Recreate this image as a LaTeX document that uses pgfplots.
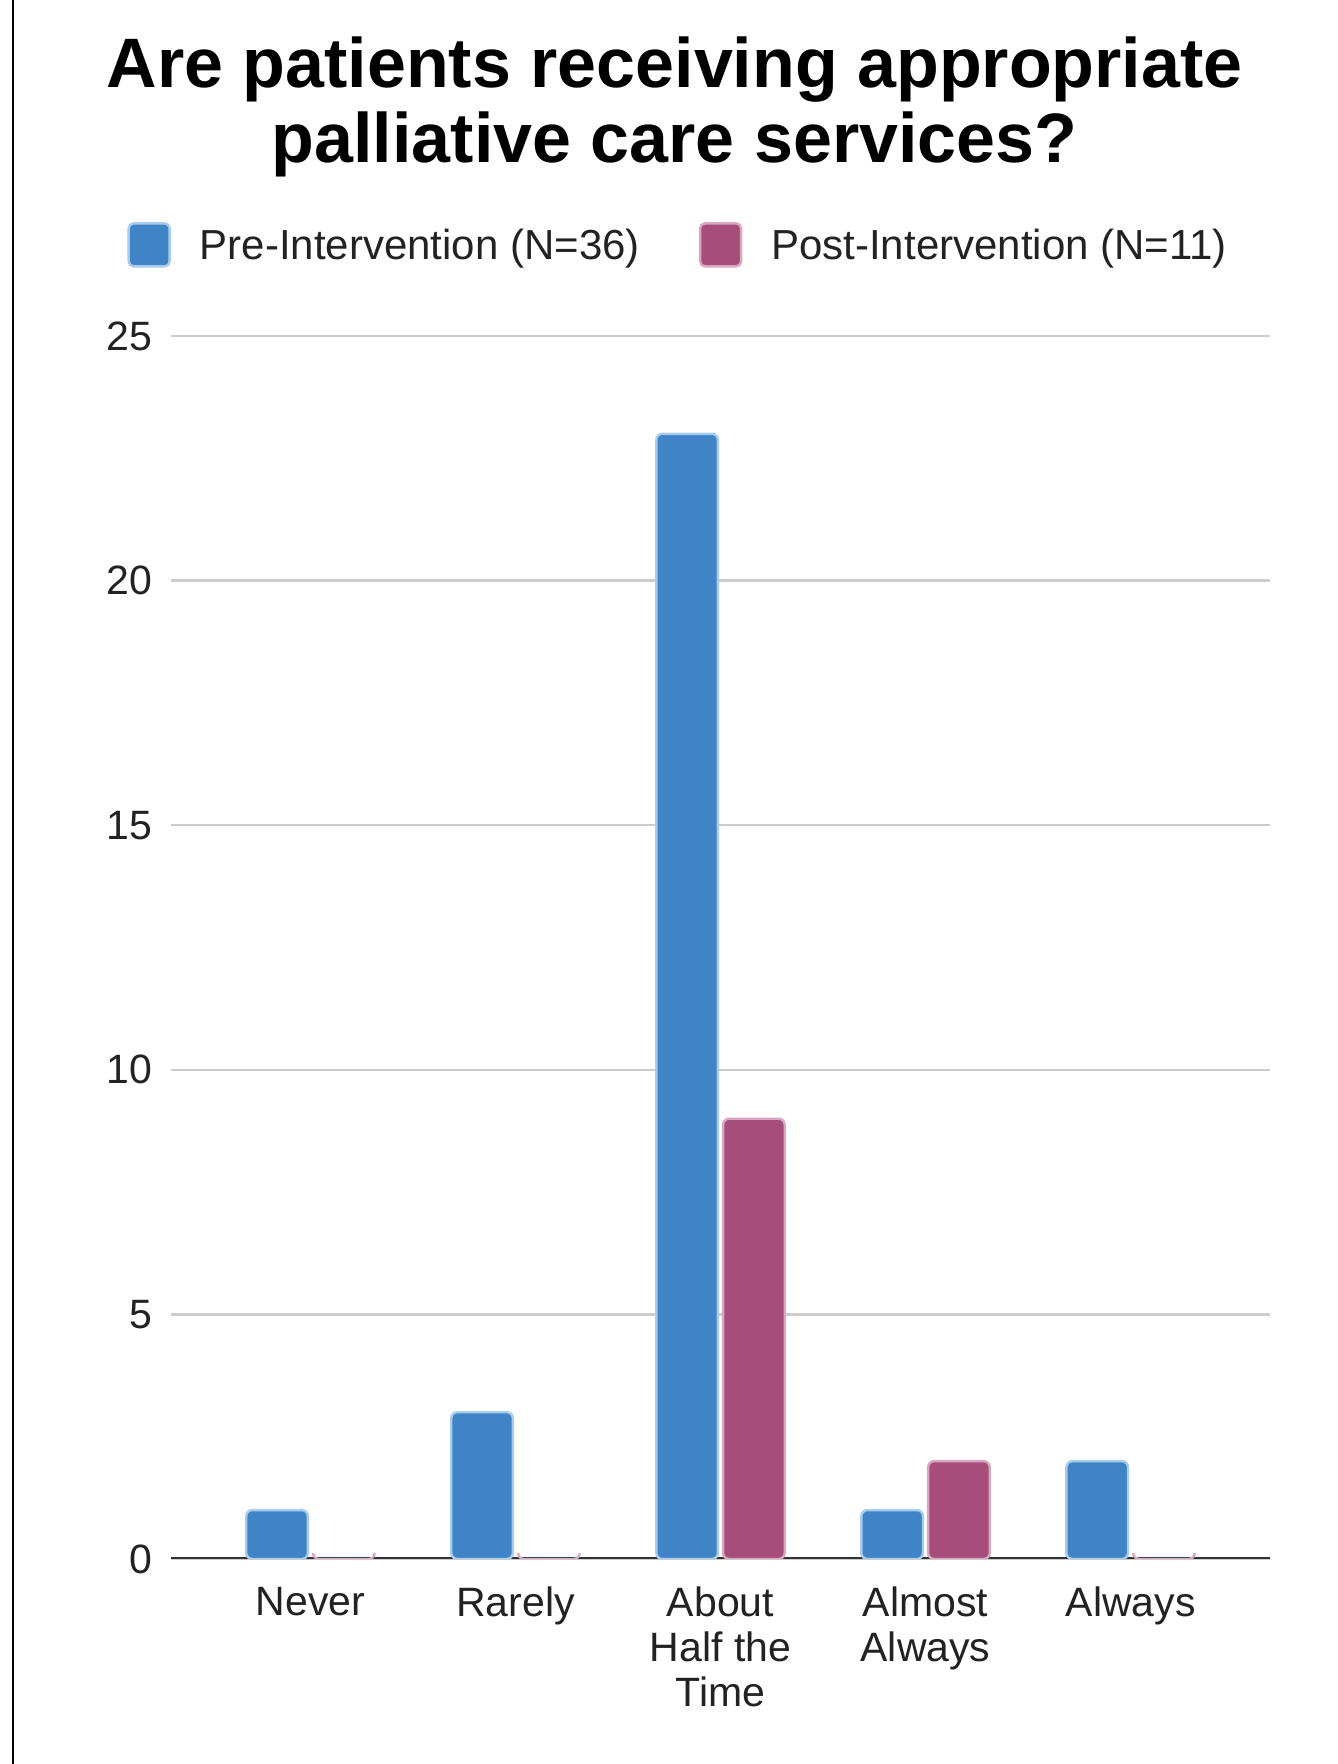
\documentclass[border=0pt]{standalone}
\usepackage{fontspec}
\setmainfont{Liberation Sans}
\usepackage{pgfplots}
\pgfplotsset{compat=1.18}

\definecolor{preblue}{HTML}{3E84C6}
\definecolor{preedge}{HTML}{A8CCEE}
\definecolor{postpink}{HTML}{A64D79}
\definecolor{postedge}{HTML}{D9A8C0}
\definecolor{gridgray}{HTML}{CCCCCC}
\definecolor{basegray}{HTML}{333333}
\definecolor{labelgray}{HTML}{222222}

\begin{document}
\begin{tikzpicture}
\useasboundingbox (0,0) rectangle (668.5pt,882pt);
\draw[black, line width=1pt] (6.5pt,0) -- (6.5pt,882pt);

\node[anchor=base, font=\fontsize{35}{40}\selectfont\bfseries] at (337.3pt,838pt) {Are patients receiving appropriate};
\node[anchor=base, font=\fontsize{35}{40}\selectfont\bfseries] at (337.3pt,800.5pt) {palliative care services?};

\begin{axis}[
    at={(85.5pt,102.5pt)}, anchor=south west,
    width=549.5pt, height=611.5pt, scale only axis,
    ybar=2.6pt, bar width=30.8pt,
    xmin=-0.68, xmax=4.68,
    ymin=0, ymax=25,
    xtick={0,1,2,3,4},
    xticklabels={Never, Rarely, {About\\Half the\\Time}, {Almost\\Always}, Always},
    ytick={0,5,10,15,20,25},
    major tick length=0pt,
    axis line style={draw=none},
    ymajorgrids,
    grid style={draw=gridgray, line width=1.2pt},
    /pgf/number format/assume math mode=true,
    tick label style={font=\fontsize{20.5}{22.5}\selectfont, text=labelgray},
    xticklabel style={align=center, yshift=-10.5pt},
    yticklabel style={xshift=-6pt},
    legend columns=2,
    legend style={draw=none, fill=none, inner sep=0pt,
        at={(-0.04,1.0745)}, anchor=west,
        nodes={inner sep=0pt, font=\fontsize{21}{24}\selectfont, text=labelgray},
        /tikz/every odd column/.style={column sep=14.5pt},
        /tikz/every even column/.style={column sep=29.5pt}},
    legend image code/.code={\draw[#1, rounded corners=2.5pt] (0pt,-10.5pt) rectangle (20.5pt,11pt);},
    every axis plot/.append style={rounded corners=3pt, line width=1.2pt},
]
\draw[basegray, line width=1.5pt] (axis cs:-0.68,0) -- (axis cs:4.68,0);
\addplot[fill=preblue, draw=preedge] coordinates {(0,1) (1,3) (2,23) (3,1) (4,2)};
\addplot[fill=postpink, draw=postedge] coordinates {(0,0) (1,0) (2,9) (3,2) (4,0)};
\legend{Pre-Intervention (N=36), Post-Intervention (N=11)}
\end{axis}
\end{tikzpicture}
\end{document}
